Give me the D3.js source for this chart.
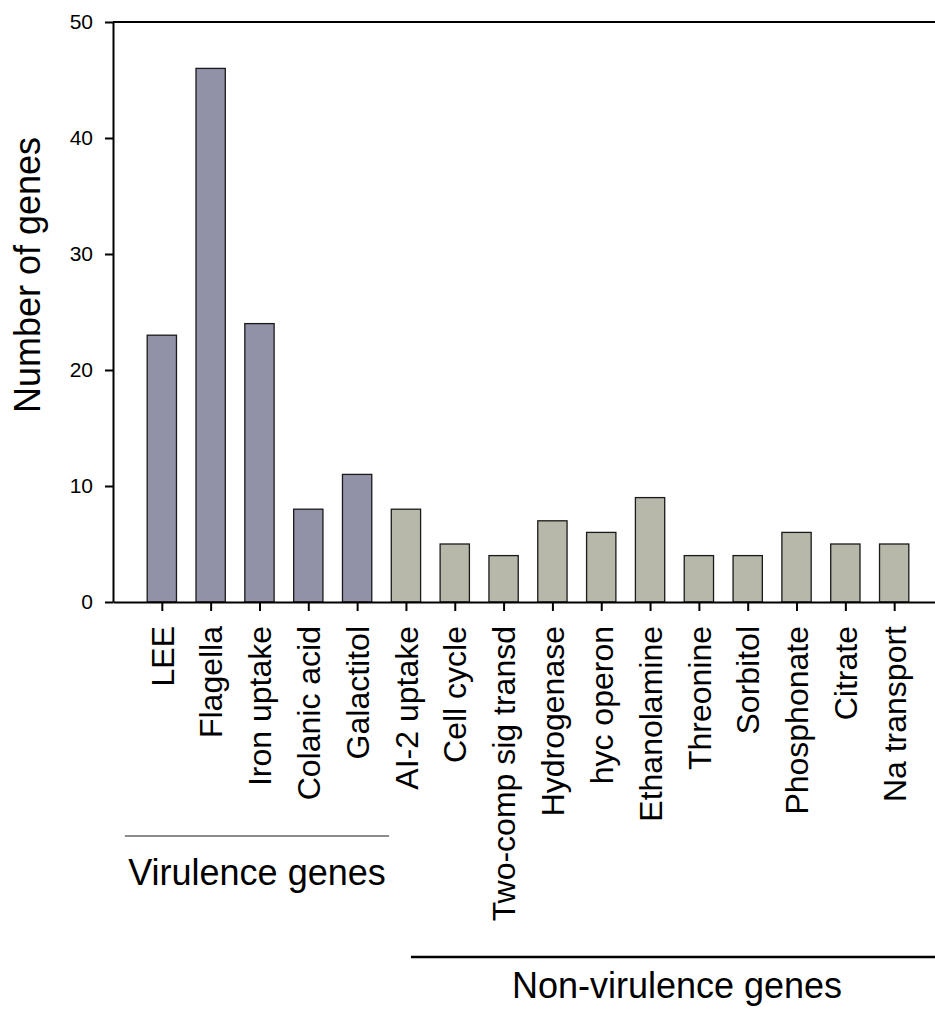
<!DOCTYPE html>
<html>
<head>
<meta charset="utf-8">
<script src="https://cdn.jsdelivr.net/npm/d3@7"></script>
<style>
  body { margin: 0; background: #fff; }
  text { font-family: Arial, "Liberation Sans", sans-serif; fill: #000; }
</style>
</head>
<body>
<div id="chart"></div>
<script>
// Data
var virulence = ["LEE", "Flagella", "Iron uptake", "Colanic acid", "Galactitol"];
var virulenceCounts = [23, 46, 24, 8, 11];
var nonVirulence = ["AI-2 uptake", "Cell cycle", "Two-comp sig transd", "Hydrogenase", "hyc operon",
  "Ethanolamine", "Threonine", "Sorbitol", "Phosphonate", "Citrate", "Na transport"];
var nonVirulenceCounts = [8, 5, 4, 7, 6, 9, 4, 4, 6, 5, 5];
var yTicks = [0, 10, 20, 30, 40, 50];

var margin = { top: 22, right: 0, bottom: 409, left: 113 },
    width = 830,
    height = 1011 - margin.top - margin.bottom;

var svg = d3.select("#chart")
  .append("svg")
    .attr("width", 935)
    .attr("height", 1011)
  .append("g")
    .attr("transform", "translate(" + margin.left + "," + margin.top + ")");

var categories = virulence.concat(nonVirulence);
var rows = virulence.map(function (d, i) { return { name: d, value: virulenceCounts[i], group: "vir" }; })
  .concat(nonVirulence.map(function (d, i) { return { name: d, value: nonVirulenceCounts[i], group: "non" }; }));

var x = d3.scalePoint()
    .domain(categories)
    .range([0, width])
    .padding(1);

var y = d3.scaleLinear()
    .domain([0, 50])
    .range([height, 0]);

var barW = x.step() * 0.6;
var color = { vir: "#9191a8", non: "#b7b7aa" };

// bars
svg.append("g")
  .selectAll("rect")
  .data(rows)
  .enter().append("rect")
    .attr("x", function (d) { return x(d.name) - barW / 2; })
    .attr("y", function (d) { return y(d.value); })
    .attr("width", barW)
    .attr("height", function (d) { return y(0) - y(d.value); })
    .attr("fill", function (d) { return color[d.group]; })
    .attr("stroke", "#1a1a1a")
    .attr("stroke-width", 1.3);

// top frame line
svg.append("line")
    .attr("x1", 0).attr("x2", width)
    .attr("y1", 0).attr("y2", 0)
    .attr("stroke", "#000").attr("stroke-width", 2);

// x axis
var xAxis = svg.append("g")
    .attr("transform", "translate(0," + height + ")")
    .call(d3.axisBottom(x).tickSize(9).tickSizeOuter(0).tickFormat(""));
xAxis.select(".domain").attr("stroke-width", 2);
xAxis.selectAll(".tick line").attr("stroke-width", 2);

xAxis.selectAll(".tick").append("text")
    .attr("transform", "rotate(-90)")
    .attr("x", -24)
    .attr("y", 0)
    .attr("dy", "0.35em")
    .attr("text-anchor", "end")
    .style("font-size", "32px")
    .text(function (d) { return d; });

// y axis
var yAxis = svg.append("g")
    .call(d3.axisLeft(y).tickValues(yTicks).tickSize(8).tickSizeOuter(0).tickPadding(12));
yAxis.select(".domain").attr("stroke-width", 2);
yAxis.selectAll(".tick line").attr("stroke-width", 2);
yAxis.selectAll(".tick text")
    .style("font-size", "21px")
    .attr("font-family", null);

// y label
svg.append("text")
    .attr("text-anchor", "middle")
    .attr("transform", "rotate(-90)")
    .attr("x", -253)
    .attr("y", -73)
    .style("font-size", "36px")
    .text("Number of genes");

// group brackets
var first = x(virulence[0]), lastVir = x(virulence[virulence.length - 1]);
svg.append("line")
    .attr("x1", first - 37).attr("x2", lastVir + 32)
    .attr("y1", 814).attr("y2", 814)
    .attr("stroke", "#666").attr("stroke-width", 1.5);
svg.append("text")
    .attr("x", (first - 37 + lastVir + 32) / 2)
    .attr("y", 863)
    .attr("text-anchor", "middle")
    .style("font-size", "36px")
    .text("Virulence genes");

var firstNon = x(nonVirulence[0]);
svg.append("line")
    .attr("x1", firstNon + 5).attr("x2", width)
    .attr("y1", 935).attr("y2", 935)
    .attr("stroke", "#000").attr("stroke-width", 2.5);
svg.append("text")
    .attr("x", 564)
    .attr("y", 976)
    .attr("text-anchor", "middle")
    .style("font-size", "36px")
    .text("Non-virulence genes");
</script>
</body>
</html>
